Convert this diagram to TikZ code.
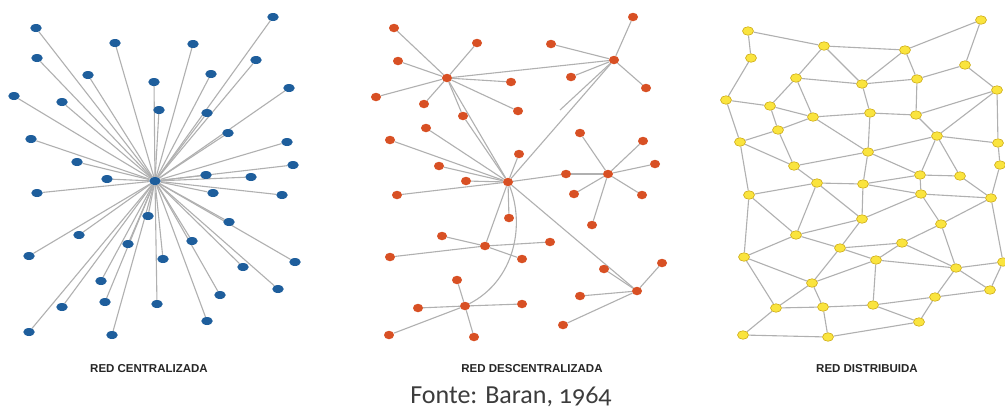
\documentclass[tikz,border=0pt]{standalone}
\usepackage{fontspec}
\setmainfont{Carlito}[Numbers=OldStyle]
\newfontfamily\capsfont{Liberation Sans}
\usetikzlibrary{shapes.geometric}

\pgfdeclarelayer{paper}
\pgfdeclarelayer{links}
\pgfsetlayers{paper,links,main}

\definecolor{linkgray}{RGB}{176,176,176}
\definecolor{starblue}{RGB}{30,94,156}
\definecolor{treered}{RGB}{216,80,36}
\definecolor{meshfill}{RGB}{250,228,62}
\definecolor{meshrim}{RGB}{206,172,24}
\definecolor{inkgray}{RGB}{60,60,60}

\tikzset{
  link/.style={draw=linkgray, line width=1.1pt},
  bluedot/.style={ellipse, fill=starblue, minimum width=11.5pt, minimum height=8pt, inner sep=0pt},
  reddot/.style={ellipse, fill=treered, minimum width=10pt, minimum height=8.5pt, inner sep=0pt},
  yellowdot/.style={ellipse, fill=meshfill, draw=meshrim, line width=0.6pt, minimum width=11pt, minimum height=8.5pt, inner sep=0pt},
  panellabel/.style={font=\capsfont\bfseries\fontsize{11.5}{12}\selectfont, text=black!85},
  sourcelabel/.style={font=\fontsize{26}{28}\selectfont, text=inkgray, anchor=base, inner sep=0pt}
}

\begin{document}
\begin{tikzpicture}[x=1pt,y=-1pt]
\useasboundingbox (0,0) rectangle (1005,408);
\begin{pgfonlayer}{paper}
  \fill[white] (0,0) rectangle (1005,408);
\end{pgfonlayer}

% ---------- centralised network: one hub, every station linked to it ----------
\node[bluedot] (bhub) at (155,181) {};
\foreach \x/\y [count=\i] in {273/17,36/28,115/43,193/44,37/58,256/60,88/75,211/74,154/82,289/88,
  14/96,62/102,159/110,207/113,228/133,31/139,287/142,77/162,293/165,206/175,251/177,107/179,
  37/193,213/193,282/195,148/216,229/222,79/235,128/244,192/241,29/256,163/259,243/267,295/262,
  101/281,220/295,278/289,105/302,62/307,157/304,207/321,29/332,112/335}{
  \node[bluedot] (bl\i) at (\x,\y) {};
  \begin{pgfonlayer}{links}\draw[link] (bhub) -- (bl\i);\end{pgfonlayer}
}

% ---------- decentralised network: several hubs with their own stations ----------
\node[reddot] (hA) at (447,78) {};
\node[reddot] (hB) at (614,60) {};
\node[reddot] (hC) at (508,182) {};
\node[reddot] (hD) at (608,174) {};
\node[reddot] (hE) at (485,246) {};
\node[reddot] (hF) at (637,291) {};
\node[reddot] (hG) at (465,306) {};
\coordinate (bend) at (560,110);

\foreach \h/\pts in {
  hA/{394/28,477/43,398/61,376/97,424/104,463/116,511/82,518/111},
  hB/{633/17,551/44,571/77,646/88},
  hC/{466/181,397/195,426/128,390/140,439/166,519/154,509/218,566/174},
  hD/{580/133,643/141,655/164,642/195,574/194,592/225},
  hE/{442/236,390/257,550/242,522/259},
  hF/{662/263,604/269,580/296,563/325},
  hG/{457/280,418/308,522/304,389/335,474/337}}{
  \foreach \x/\y [count=\i] in \pts {
    \node[reddot] (\h s\i) at (\x,\y) {};
    \begin{pgfonlayer}{links}\draw[link] (\h) -- (\h s\i);\end{pgfonlayer}
  }
}

\begin{pgfonlayer}{links}
  \draw[link] (hA) -- (hB);
  \draw[link] (hA) -- (hC);
  \draw[link] (hAs6) -- (hC);
  \draw[link] (hB) -- (hC);
  \draw[link] (hB) -- (bend);
  \draw[link] (hCs8) -- (hD);
  \draw[link] (hC) -- (hE);
  \draw[link] (hC) -- (hF);
  \draw[link] (hC) .. controls (525,225) and (515,280) .. (hG);
\end{pgfonlayer}

% ---------- distributed network: a mesh ----------
\foreach \n/\x/\y in {a/981/20,b/748/31,c/824/46,d/905/50,e/751/58,f/965/65,g/796/78,h/862/84,
  i/917/79,j/997/90,k/726/100,l/770/106,m/813/117,n/870/113,o/916/115,p/778/130,q/937/136,
  r/740/142,s/868/152,t/998/143,u/794/166,v/1000/165,w/920/175,x/960/176,y/817/183,z/863/184,
  A/749/195,B/921/194,C/991/198,D/862/219,E/941/224,F/796/235,G/840/248,H/902/243,I/876/260,
  J/744/257,K/1003/262,L/956/268,M/812/283,N/990/290,O/935/297,P/776/308,Q/823/307,R/873/305,
  S/919/322,T/743/335,U/828/337}{
  \node[yellowdot] (y\n) at (\x,\y) {};
}
\begin{pgfonlayer}{links}
\foreach \p/\q in {b/c,c/d,d/a,b/e,a/f,c/g,c/h,d/h,d/i,g/h,h/i,i/f,f/j,e/k,k/l,g/l,g/m,l/m,
  h/n,m/n,n/o,i/o,o/j,l/p,m/p,m/s,n/s,o/q,j/q,j/t,q/t,s/q,k/r,r/p,r/u,p/u,u/s,s/w,q/w,q/x,
  t/v,r/A,u/y,s/z,A/y,y/z,z/w,w/x,w/B,z/B,B/C,x/C,v/C,y/D,z/D,A/F,y/F,D/F,B/D,B/E,C/E,
  D/G,F/G,G/H,E/H,H/I,G/I,E/L,H/L,I/L,C/K,L/K,L/N,K/N,L/O,N/O,O/S,A/J,F/J,J/M,G/M,I/M,
  I/R,J/P,M/P,M/Q,P/Q,Q/R,R/O,R/S,P/T,T/U,Q/U,U/S}{
  \draw[link] (y\p) -- (y\q);
}
\end{pgfonlayer}

% ---------- captions ----------
\node[panellabel] (capA) at (149,369) {RED CENTRALIZADA};
\node[panellabel] (capB) at (532,369) {RED DESCENTRALIZADA};
\node[panellabel] (capC) at (867,369) {RED DISTRIBUIDA};
\node[sourcelabel] (source) at (511,403) {Fonte: Baran, 1964};
\end{tikzpicture}
\end{document}
